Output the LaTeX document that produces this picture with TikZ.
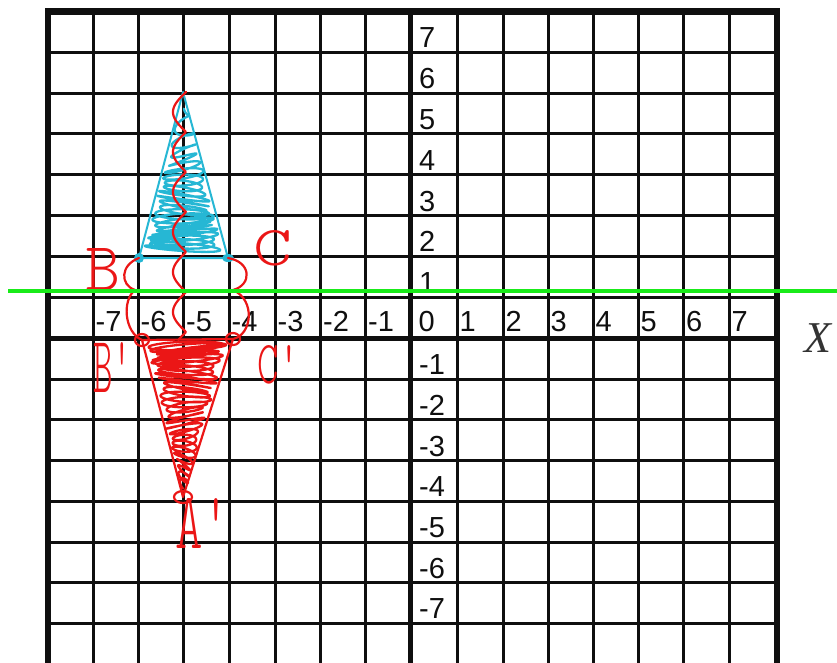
\documentclass[tikz,border=0pt]{standalone}
\usepackage{fontspec}
\usepackage{graphicx}
\newfontfamily\numfont{Liberation Sans}
\newfontfamily\xfont{Liberation Serif}
\definecolor{cyanpen}{RGB}{38,183,212}
\definecolor{redpen}{RGB}{235,22,22}
\definecolor{greenpen}{RGB}{25,235,25}
\definecolor{gridink}{RGB}{15,15,15}
\newcommand\handtext[3]{\resizebox{#1pt}{#2pt}{\ttfamily\fontseries{l}\selectfont #3}}
\begin{document}
\begin{tikzpicture}[x=1pt,y=-1pt,
  gridline/.style={draw=gridink, line width=3pt},
  axisline/.style={draw=gridink, line width=5pt},
  borderline/.style={draw=gridink, line width=6.5pt},
  numlab/.style={anchor=base west, inner sep=0pt, font=\numfont\fontsize{29}{29}\selectfont, text=gridink},
  handlab/.style={anchor=north west, inner sep=0pt, text=redpen},
  bluepen/.style={draw=cyanpen, line width=2pt, line join=round, line cap=round},
  rpen/.style={draw=redpen, line width=2.2pt, line join=round, line cap=round},
  greenline/.style={draw=greenpen, line width=4.5pt}
]
\fill[white] (0,0) rectangle (837,662);
\useasboundingbox (0,0) rectangle (837,662);
% grid
\foreach \gx in {93,138,183.5,229,275,320.5,365.5,457,503,548,593,638,683.5,729}
  \draw[gridline] (\gx,11.5) -- (\gx,670);
\foreach \gy in {52.3,93.1,133.9,174.7,215.5,256.3,297.1,379.2,419.9,460.6,501.3,542,582.7,623.4}
  \draw[gridline] (48,\gy) -- (777,\gy);
\draw[axisline] (410.5,11.5) -- (410.5,670);
\draw[axisline] (48,338.5) -- (777,338.5);
\draw[borderline] (48,670) -- (48,11.5) -- (777,11.5) -- (777,670);
% x labels
\foreach \i/\lx/\lt in {1/93/-7,2/138/-6,3/183.5/-5,4/229/-4,5/275/-3,6/320.5/-2,7/365.5/-1,8/416/0,9/457/1,10/503/2,11/548/3,12/593/4,13/638/5,14/683.5/6,15/729/7}
  \node[numlab] (xl\i) at (\lx+2.5,331) {\lt};
% y labels
\foreach \i/\ly/\lt in {1/52.3/7,2/93.1/6,3/133.9/5,4/174.7/4,5/215.5/3,6/256.3/2,7/297.1/1,9/379.2/-1,10/419.9/-2,11/460.6/-3,12/501.3/-4,13/542/-5,14/582.7/-6,15/623.4/-7}
  \node[numlab] (yl\i) at (419,\ly-4.5) {\lt};
\node[anchor=base west, inner sep=0pt, font=\xfont\itshape\fontsize{44}{44}\selectfont, text=black!80] (xaxis) at (804,352) {X};
% cyan triangle
\coordinate (A) at (183,92);
\coordinate (B) at (139,258);
\coordinate (C) at (228,258);
\draw[bluepen] (A) -- (B) -- (C) -- cycle;
\draw[bluepen, line width=2.3pt] plot[samples=800, domain=0.001:1, variable=\s]
  ({183.5 + (8+150*sqrt(\s))/166*41*(0.9+0.1*sin(1900*\s))*sin(7920*\s)},
   {100+150*sqrt(\s)+4*cos(7920*\s+600*\s)});
\fill[cyanpen] (B) circle[radius=5pt];
\fill[cyanpen] (C) ellipse[x radius=6pt, y radius=4pt];
% red triangle
\coordinate (Bp) at (142,340);
\coordinate (Cp) at (233,339);
\coordinate (Ap) at (183,497);
\draw[rpen] (Bp) -- (Cp) -- (Ap) -- cycle;
\draw[rpen, line width=2.3pt] plot[samples=900, domain=0.001:1, variable=\s]
  ({187.5-4.5*(5+140*pow(\s,1.4))/157 + 0.9*45.5*(152-140*pow(\s,1.4))/157*(0.88+0.12*sin(2300*\s))*sin(10080*\s)},
   {345+140*pow(\s,1.4)+4*cos(10080*\s+700*\s)});
\draw[rpen] (Bp) ellipse[x radius=7pt, y radius=6pt];
\draw[rpen] (Cp) ellipse[x radius=7pt, y radius=6pt];
\draw[rpen] (Ap) ellipse[x radius=9pt, y radius=6pt];
% reflection traces
\draw[rpen] (B) .. controls (120,265) and (120,285) .. (135,290) .. controls (122,300) and (124,332) .. (Bp);
\draw[rpen] (C) .. controls (252,262) and (252,285) .. (233,290) .. controls (256,300) and (252,335) .. (Cp);
\draw[rpen] plot[samples=220, domain=92:340, variable=\s] ({186-13*abs(sin((\s-92)*4.5))}, {\s});
% handwritten labels
\node[handlab] (labB) at (85,248) {\handtext{35}{42}{B}};
\node[handlab] (labC) at (253,230) {\handtext{39}{35}{C}};
\node[handlab] (labBp) at (93,342) {\handtext{39}{50}{B\textquotesingle}};
\node[handlab] (labCp) at (257,345) {\handtext{43}{38}{C\textquotesingle}};
\node[handlab] (labAp) at (175,498) {\handtext{55}{50}{A\textquotesingle}};
% mirror line
\coordinate (gl) at (8,291);
\coordinate (gr) at (837,291);
\draw[greenline] (gl) -- (gr);
\end{tikzpicture}
\end{document}
